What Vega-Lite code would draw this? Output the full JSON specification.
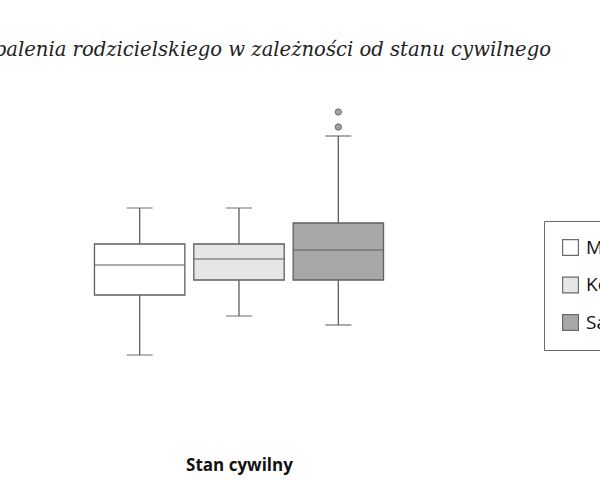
{
  "$schema": "https://vega.github.io/schema/vega-lite/v6.json",
  "autosize": {"type": "none"},
  "width": 298,
  "height": 300,
  "padding": {"left": 90, "top": 100, "right": 212, "bottom": 80},
  "background": "#ffffff",
  "title": {
    "text": "Poziom wypalenia rodzicielskiego w zależności od stanu cywilnego",
    "anchor": "end",
    "frame": "group",
    "dx": 163,
    "offset": 39,
    "font": "DejaVu Serif",
    "fontStyle": "italic",
    "fontWeight": "normal",
    "fontSize": 19.6,
    "color": "#222222"
  },
  "config": {
    "view": {"stroke": null},
    "legend": {
      "labelFont": "Open Sans",
      "labelFontSize": 19,
      "labelColor": "#111111"
    }
  },
  "datasets": {
    "boxes": [
      {"stan": "Małżeństwo", "min": 15, "q1": 35, "median": 45, "q3": 52, "max": 64},
      {"stan": "Konkubinat", "min": 28, "q1": 40, "median": 47, "q3": 52, "max": 64},
      {"stan": "Samotny rodzic", "min": 25, "q1": 40, "median": 50, "q3": 59, "max": 88}
    ],
    "outliers": [
      {"stan": "Samotny rodzic", "value": 91},
      {"stan": "Samotny rodzic", "value": 96}
    ]
  },
  "encoding": {
    "x": {
      "field": "stan",
      "type": "nominal",
      "sort": ["Małżeństwo", "Konkubinat", "Samotny rodzic"],
      "scale": {"paddingInner": 0.09, "paddingOuter": 0.045},
      "axis": {
        "title": "Stan cywilny",
        "titleFont": "Open Sans",
        "titleFontWeight": "bold",
        "titleFontSize": 17,
        "titleColor": "#111111",
        "titlePadding": 57,
        "labels": false,
        "ticks": false,
        "domain": false
      }
    }
  },
  "layer": [
    {
      "data": {"name": "boxes"},
      "mark": {"type": "rule", "color": "#5f5f5f", "strokeWidth": 1.3},
      "encoding": {
        "y": {"field": "min", "type": "quantitative", "scale": {"domain": [0, 100]}, "axis": null},
        "y2": {"field": "max"}
      }
    },
    {
      "data": {"name": "boxes"},
      "mark": {"type": "tick", "color": "#5f5f5f", "size": 26, "thickness": 1.3},
      "encoding": {"y": {"field": "min", "type": "quantitative"}}
    },
    {
      "data": {"name": "boxes"},
      "mark": {"type": "tick", "color": "#5f5f5f", "size": 26, "thickness": 1.3},
      "encoding": {"y": {"field": "max", "type": "quantitative"}}
    },
    {
      "data": {"name": "boxes"},
      "mark": {"type": "bar", "stroke": "#5f5f5f", "strokeWidth": 1.3},
      "encoding": {
        "y": {"field": "q1", "type": "quantitative"},
        "y2": {"field": "q3"},
        "fill": {
          "field": "stan",
          "type": "nominal",
          "sort": ["Małżeństwo", "Konkubinat", "Samotny rodzic"],
          "scale": {"range": ["#ffffff", "#e6e6e6", "#a8a8a8"]},
          "legend": {
            "title": null,
            "orient": "none",
            "legendX": 454,
            "legendY": 121,
            "strokeColor": "#6b6b6b",
            "padding": 17,
            "symbolType": "square",
            "symbolSize": 250,
            "symbolStrokeColor": "#6b6b6b",
            "symbolStrokeWidth": 1.2,
            "rowPadding": 16.5,
            "labelOffset": 6
          }
        }
      }
    },
    {
      "data": {"name": "boxes"},
      "mark": {"type": "tick", "color": "#5f5f5f", "thickness": 1.3, "size": 90},
      "encoding": {"y": {"field": "median", "type": "quantitative"}}
    },
    {
      "data": {"name": "outliers"},
      "mark": {"type": "point", "filled": true, "fill": "#a0a0a0", "stroke": "#6f6f6f", "strokeWidth": 1, "size": 40, "opacity": 1},
      "encoding": {"y": {"field": "value", "type": "quantitative"}}
    }
  ]
}
